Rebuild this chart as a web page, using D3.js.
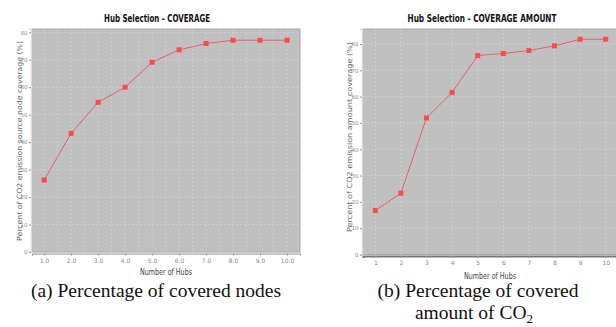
<!DOCTYPE html>
<html>
<head>
<meta charset="utf-8">
<script src="https://cdn.jsdelivr.net/npm/d3@7"></script>
<style>
  html, body { margin: 0; padding: 0; background: #fff; }
  svg { display: block; }
</style>
</head>
<body>
<div id="chart"></div>
<script>
// values
const hubs = [1, 2, 3, 4, 5, 6, 7, 8, 9, 10];
const nodeCoverage = [26.2, 43.2, 54.5, 60.0, 69.1, 73.6, 75.9, 77.1, 77.1, 77.1];
const amountCoverage = [16.7, 23.3, 51.9, 61.6, 75.6, 76.4, 77.5, 79.3, 81.8, 81.8];
const yTicks = [0, 10, 20, 30, 40, 50, 60, 70, 80];
const nodeTickLabels = ['1.0', '2.0', '3.0', '4.0', '5.0', '6.0', '7.0', '8.0', '9.0', '10.0'];
const amountTickLabels = ['1', '2', '3', '4', '5', '6', '7', '8', '9', '10'];

const width = 616;
const height = 327;
const narrow = "'DejaVu Sans Condensed', 'Roboto', 'Liberation Sans', sans-serif";

const svg = d3.select('#chart').append('svg')
  .attr('width', width)
  .attr('height', height);

svg.append('rect').attr('width', width).attr('height', height).attr('fill', '#fff');

// draws one panel
function drawPanel(opts) {
  const g = svg.append('g');
  const x = d3.scaleLinear().domain(opts.xDomain).range([opts.left, opts.right]);
  const y = d3.scaleLinear().domain(opts.yDomain).range([opts.bottom, opts.top]);

  g.append('rect')
    .attr('x', opts.left).attr('y', opts.top)
    .attr('width', opts.right - opts.left).attr('height', opts.bottom - opts.top)
    .attr('fill', '#c0c0c0')
    .attr('stroke', '#a9a9a9')
    .attr('stroke-width', 1);

  // grid
  g.append('g')
    .selectAll('line')
    .data(opts.vGrid)
    .join('line')
    .attr('x1', d => x(d)).attr('x2', d => x(d))
    .attr('y1', opts.top).attr('y2', opts.bottom)
    .attr('stroke', '#dadada')
    .attr('stroke-width', 0.6)
    .attr('stroke-dasharray', '2,2');
  g.append('g')
    .selectAll('line')
    .data(yTicks.slice(1))
    .join('line')
    .attr('x1', opts.left).attr('x2', opts.right)
    .attr('y1', d => y(d)).attr('y2', d => y(d))
    .attr('stroke', '#dadada')
    .attr('stroke-width', 0.6)
    .attr('stroke-dasharray', '2,2');

  // y axis
  const yAxis = g.append('g')
    .attr('transform', `translate(${opts.left - 1},0)`)
    .call(d3.axisLeft(y).tickValues(yTicks).tickSize(2).tickPadding(1.5));
  yAxis.select('.domain').attr('stroke', '#dcdcdc').attr('stroke-width', 1.5);
  yAxis.selectAll('.tick line').attr('stroke', '#999');
  yAxis.selectAll('text')
    .attr('fill', '#888')
    .style('font-family', 'DejaVu Sans')
    .style('font-size', '5.5px');

  // x axis
  const xAxis = g.append('g')
    .attr('transform', `translate(0,${opts.bottom + 1.5})`)
    .call(d3.axisBottom(x).tickValues(hubs).tickFormat((d, i) => opts.tickLabels[i]).tickSize(2).tickPadding(3));
  xAxis.select('.domain').attr('stroke', opts.xAxisColor).attr('stroke-width', opts.xAxisWidth);
  xAxis.selectAll('.tick line').attr('stroke', '#999');
  xAxis.selectAll('text')
    .attr('fill', '#888')
    .style('font-family', 'DejaVu Sans')
    .style('font-size', '6px');

  // series
  const line = d3.line()
    .x((d, i) => x(hubs[i]))
    .y(d => y(d));
  g.append('path')
    .datum(opts.values)
    .attr('d', line)
    .attr('fill', 'none')
    .attr('stroke', '#e2616b')
    .attr('stroke-width', 1);
  g.append('g')
    .selectAll('rect')
    .data(opts.values)
    .join('rect')
    .attr('x', (d, i) => x(hubs[i]) - 2.5)
    .attr('y', d => y(d) - 2.5)
    .attr('width', 5).attr('height', 5)
    .attr('fill', '#ff4a4a');

  // titles
  g.append('text')
    .attr('x', opts.titleX).attr('y', 22)
    .attr('text-anchor', 'middle')
    .attr('textLength', opts.titleLength)
    .attr('lengthAdjust', 'spacingAndGlyphs')
    .style('font-family', narrow)
    .style('font-weight', 'bold')
    .style('font-size', '10px')
    .attr('fill', '#111')
    .text(opts.title);

  g.append('text')
    .attr('transform', `translate(${opts.yLabelX},${opts.yLabelY}) rotate(-90)`)
    .attr('text-anchor', 'middle')
    .attr('textLength', opts.yLabelLength)
    .attr('lengthAdjust', 'spacingAndGlyphs')
    .style('font-family', 'DejaVu Sans')
    .style('font-size', '7px')
    .attr('fill', '#666')
    .text(opts.yLabel);

  g.append('text')
    .attr('x', opts.xLabelX).attr('y', opts.xLabelY)
    .attr('text-anchor', 'middle')
    .attr('textLength', 52)
    .attr('lengthAdjust', 'spacingAndGlyphs')
    .style('font-family', narrow)
    .style('font-size', '8px')
    .attr('fill', '#444')
    .text('Number of Hubs');
}

drawPanel({
  values: nodeCoverage,
  tickLabels: nodeTickLabels,
  xDomain: [0.55, 10.48],
  yDomain: [0, 81.2],
  left: 32, right: 300, top: 29, bottom: 252,
  vGrid: d3.range(1, 10.5, 0.5),
  xAxisColor: '#8c8c8c', xAxisWidth: 1,
  title: 'Hub Selection - COVERAGE', titleX: 157, titleLength: 106,
  yLabel: 'Percent of CO2 emission source node coverage (%)',
  yLabelX: 21.5, yLabelY: 141, yLabelLength: 200,
  xLabelX: 166, xLabelY: 275
});

drawPanel({
  values: amountCoverage,
  tickLabels: amountTickLabels,
  xDomain: [0.52, 10.48],
  yDomain: [0, 85.7],
  left: 363, right: 618, top: 29, bottom: 254.5,
  vGrid: hubs,
  xAxisColor: '#777', xAxisWidth: 2,
  title: 'Hub Selection - COVERAGE AMOUNT', titleX: 482, titleLength: 149,
  yLabel: 'Percent of CO2 emission amount coverage (%)',
  yLabelX: 351.5, yLabelY: 137, yLabelLength: 190,
  xLabelX: 490, xLabelY: 279
});

// sub-figure captions
const captions = svg.append('g')
  .style('font-family', 'Liberation Serif')
  .style('font-size', '19.5px')
  .attr('fill', '#111');
captions.append('text').attr('x', 156).attr('y', 297).attr('text-anchor', 'middle')
  .text('(a) Percentage of covered nodes');
captions.append('text').attr('x', 478).attr('y', 297).attr('text-anchor', 'middle')
  .text('(b) Percentage of covered');
const cap2 = captions.append('text').attr('x', 474).attr('y', 319).attr('text-anchor', 'middle');
cap2.append('tspan').text('amount of CO');
cap2.append('tspan').attr('dy', 4).style('font-size', '13px').text('2');
</script>
</body>
</html>
